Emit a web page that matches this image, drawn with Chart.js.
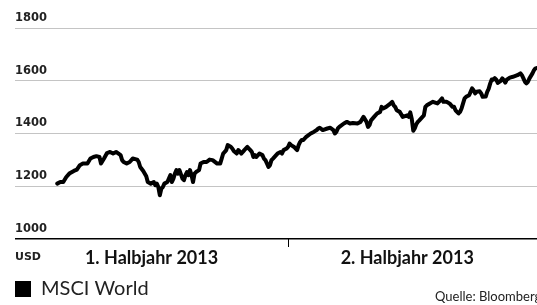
<!DOCTYPE html>
<html lang="de">
<head>
<meta charset="utf-8">
<title>MSCI World 2013</title>
<script src="https://cdn.jsdelivr.net/npm/chart.js@4"></script>
<style>
  html, body { margin: 0; padding: 0; background: #fff; }
  #wrap { position: relative; width: 537px; height: 305px; }
</style>
</head>
<body>
<div id="wrap"><canvas id="chart"></canvas></div>
<script>
// ---- Data (x = Kalendertag 2013, y = Indexstand in USD) ----
const days = [
  28, 30, 32, 34, 36, 39, 41, 43, 45, 48, 50, 52, 54, 56, 57, 59, 61, 63, 65, 67,
  70, 71, 72, 74, 76, 78, 81, 82, 83, 85, 87, 88, 90, 92, 93, 94, 95, 96, 97, 98,
  99, 101, 102, 103, 104, 105, 106, 107, 108, 109, 111, 112, 113, 114, 115, 116, 117, 118, 119, 120,
  122, 123, 125, 127, 129, 131, 134, 136, 137, 138, 139, 140, 141, 143, 144, 145, 147, 148, 149, 150,
  151, 152, 154, 155, 156, 157, 158, 159, 160, 162, 164, 165, 166, 167, 168, 169, 170, 171, 174, 176,
  177, 178, 180, 181, 182, 183, 185, 186, 187, 188, 189, 190, 191, 193, 196, 198, 200, 201, 202, 204,
  207, 209, 211, 212, 213, 214, 215, 218, 220, 222, 224, 227, 229, 231, 233, 234, 235, 236, 238, 240,
  242, 243, 244, 246, 249, 250, 251, 252, 253, 255, 257, 260, 261, 262, 263, 264, 265, 266, 267, 268,
  271, 272, 273, 275, 277, 280, 282, 283, 284, 286, 288, 290, 291, 292, 293, 294, 295, 296, 297, 298,
  299, 301, 302, 303, 304, 305, 306, 308, 309, 310, 312, 313, 314, 315, 316, 317, 318, 319, 320, 322,
  323, 324, 325, 326, 328, 330, 333, 335, 336, 337, 338, 339, 340, 341, 343, 344, 345, 346
];
const msciWorld = [
  1210, 1216, 1216, 1235, 1248, 1258, 1263, 1280, 1286, 1286, 1305, 1311, 1314, 1311, 1286, 1305, 1326, 1330, 1324, 1330,
  1318, 1299, 1292, 1286, 1292, 1305, 1301, 1292, 1273, 1258, 1238, 1216, 1210, 1216, 1204, 1210, 1197, 1166, 1191, 1197,
  1210, 1216, 1229, 1242, 1216, 1229, 1248, 1261, 1248, 1261, 1229, 1223, 1242, 1254, 1242, 1261, 1242, 1216, 1248, 1254,
  1261, 1286, 1292, 1292, 1301, 1299, 1286, 1286, 1305, 1324, 1330, 1337, 1356, 1350, 1343, 1334, 1324, 1337, 1332, 1324,
  1330, 1337, 1349, 1343, 1337, 1330, 1311, 1318, 1311, 1324, 1318, 1305, 1299, 1286, 1273, 1280, 1299, 1305, 1324, 1330,
  1324, 1337, 1343, 1349, 1362, 1356, 1349, 1343, 1337, 1356, 1368, 1375, 1375, 1387, 1400, 1406, 1413, 1419, 1422, 1413,
  1419, 1422, 1413, 1400, 1406, 1419, 1425, 1438, 1444, 1438, 1440, 1438, 1444, 1463, 1444, 1425, 1432, 1450, 1463, 1476,
  1482, 1501, 1495, 1501, 1514, 1520, 1507, 1501, 1488, 1482, 1463, 1469, 1463, 1480, 1455, 1410, 1420, 1435, 1444, 1450,
  1469, 1501, 1507, 1514, 1520, 1514, 1526, 1533, 1520, 1520, 1514, 1501, 1501, 1488, 1482, 1476, 1482, 1495, 1514, 1533,
  1539, 1545, 1558, 1571, 1564, 1552, 1558, 1560, 1552, 1539, 1540, 1558, 1570, 1590, 1605, 1604, 1610, 1604, 1592, 1600,
  1609, 1602, 1593, 1604, 1612, 1615, 1621, 1628, 1621, 1609, 1596, 1590, 1596, 1609, 1628, 1640, 1647, 1648
];
const seriesName   = 'MSCI World';
const yTicks       = [1000, 1200, 1400, 1600, 1800];
const halfLabels   = ['1. Halbjahr 2013', '2. Halbjahr 2013'];
const halfLabelPos = [90.5, 260];
const halfSplitDay = 181;
const xMax         = 346;
const unitLabel    = 'USD';
const sourceLabel  = 'Quelle: Bloomberg';

const points = days.map((d, i) => ({ x: d, y: msciWorld[i] }));

// Divider tick between the half-years, unit and source texts
const extras = {
  id: 'extras',
  afterDraw(chart) {
    const { ctx, chartArea, scales } = chart;
    const xs = scales.x;
    const px = Math.round(xs.getPixelForValue(halfSplitDay)) + 0.5;
    ctx.save();
    ctx.strokeStyle = '#000';
    ctx.lineWidth = 1;
    ctx.beginPath();
    ctx.moveTo(px, chartArea.bottom);
    ctx.lineTo(px, chartArea.bottom + 8);
    ctx.stroke();

    ctx.fillStyle = '#222';
    ctx.textBaseline = 'middle';
    ctx.textAlign = 'left';
    ctx.font = 'bold 11px "DejaVu Sans"';
    ctx.fillText(unitLabel, chartArea.left, chartArea.bottom + 18);

    ctx.font = '13px Lato';
    ctx.fillText(sourceLabel, 435, 297);
    ctx.restore();
  }
};

new Chart(document.getElementById('chart'), {
  type: 'line',
  data: {
    datasets: [{
      label: seriesName,
      data: points,
      borderColor: '#000',
      backgroundColor: '#000',
      borderWidth: 4,
      borderJoinStyle: 'round',
      borderCapStyle: 'round',
      pointRadius: 0,
      tension: 0
    }]
  },
  options: {
    responsive: true,
    maintainAspectRatio: false,
    animation: false,
    layout: { padding: { top: 28, left: 15, right: 0, bottom: -4 } },
    scales: {
      x: {
        type: 'linear',
        min: 0,
        max: xMax,
        afterBuildTicks: scale => { scale.ticks = halfLabelPos.map(v => ({ value: v })); },
        afterFit: scale => { scale.height = 40; },
        grid: { display: false, drawTicks: false },
        border: { display: false },
        ticks: {
          autoSkip: false,
          maxRotation: 0,
          padding: 8,
          color: '#111',
          font: { family: 'Lato', weight: 'bold', size: 18 },
          callback: (v, i) => halfLabels[i]
        }
      },
      y: {
        min: 1000,
        max: 1800,
        afterBuildTicks: scale => { scale.ticks = yTicks.map(v => ({ value: v })); },
        grid: {
          drawTicks: false,
          color: c => c.tick && c.tick.value === 1000 ? '#000' : '#c4c4c4',
          lineWidth: c => c.tick && c.tick.value === 1000 ? 1.5 : 1
        },
        border: { display: false },
        ticks: {
          mirror: true,
          padding: 0,
          labelOffset: -10,
          color: '#222',
          font: { family: 'DejaVu Sans', weight: 'bold', size: 11.5 },
          callback: v => String(v)
        }
      }
    },
    plugins: {
      legend: {
        position: 'bottom',
        align: 'start',
        labels: {
          padding: 0,
          boxWidth: 16,
          boxHeight: 16,
          color: '#222',
          font: { family: 'Lato', size: 20 },
          generateLabels: chart => Chart.defaults.plugins.legend.labels.generateLabels(chart)
            .map(l => ({ ...l, lineWidth: 0, fillStyle: '#000' }))
        }
      },
      tooltip: { enabled: false }
    }
  },
  plugins: [extras]
});
</script>
</body>
</html>
